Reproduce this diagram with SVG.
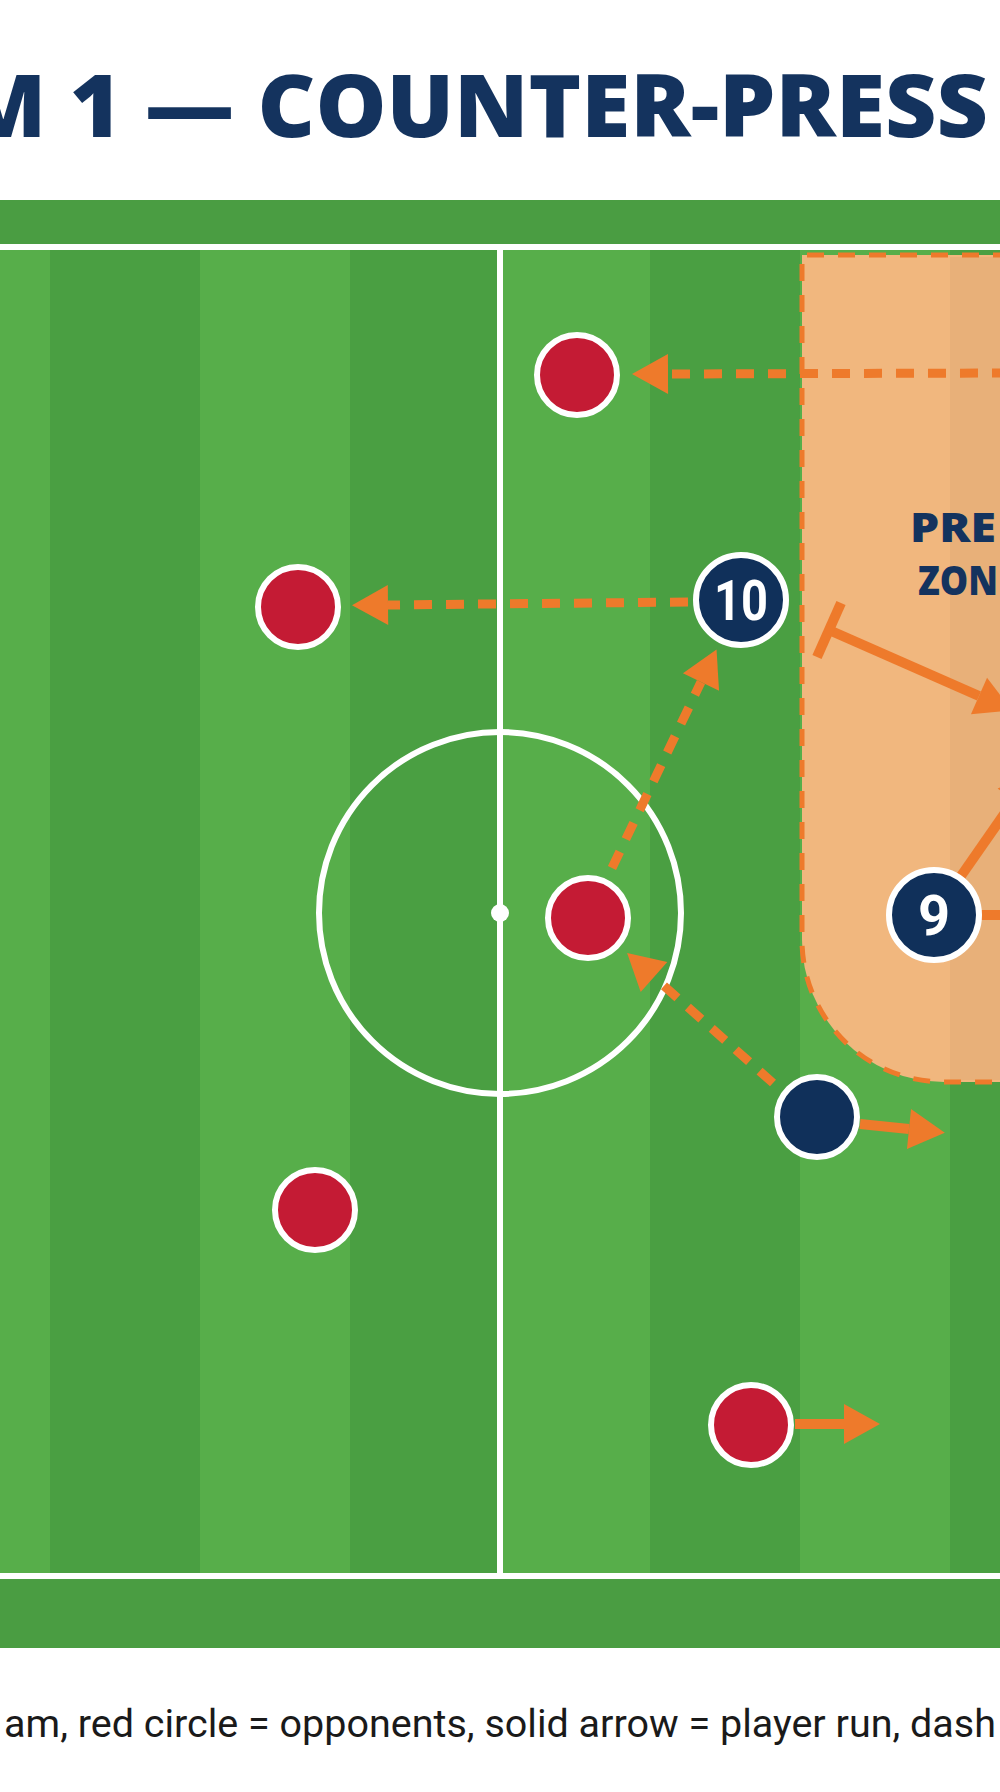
<svg xmlns="http://www.w3.org/2000/svg" width="1000" height="1792" viewBox="0 0 1000 1792">
  <style>
    .line { stroke: #ffffff; stroke-width: 6; fill: none; }
    .dash { stroke: #ee7a2b; stroke-width: 9; fill: none; stroke-dasharray: 18 14; }
    .solid { stroke: #ee7a2b; stroke-width: 10; fill: none; }
    .red { fill: #c41b34; stroke: #ffffff; stroke-width: 6; }
    .navy { fill: #10305a; stroke: #ffffff; stroke-width: 6; }
    .num { fill: #ffffff; font-family: Roboto, 'Liberation Sans', sans-serif; font-weight: 700; font-size: 56px; text-anchor: middle; }
    .zonetxt { fill: #14335e; font-family: 'Open Sans', 'Noto Sans', sans-serif; font-weight: 800; font-size: 41px; }
  </style>
  <defs>
    <marker id="ah" markerUnits="userSpaceOnUse" markerWidth="36" markerHeight="40" refX="0" refY="20" orient="auto" overflow="visible">
      <path d="M0,0 L36,20 L0,40 Z" fill="#ee7a2b"/>
    </marker>
  </defs>

  <rect x="0" y="0" width="1000" height="1792" fill="#ffffff"/>

  <text id="title" x="-40" y="137" font-family="'Open Sans','Noto Sans',sans-serif" font-weight="800" font-size="87" fill="#14335e" textLength="1028" lengthAdjust="spacingAndGlyphs">M 1 — COUNTER-PRESS</text>

  <g id="pitch">
    <rect x="0" y="200" width="1000" height="1448" fill="#4a9d42"/>
    <rect x="0" y="247" width="50" height="1329" fill="#57ae4a"/>
    <rect x="50" y="247" width="150" height="1329" fill="#4a9f42"/>
    <rect x="200" y="247" width="150" height="1329" fill="#57ae4a"/>
    <rect x="350" y="247" width="150" height="1329" fill="#4a9f42"/>
    <rect x="500" y="247" width="150" height="1329" fill="#57ae4a"/>
    <rect x="650" y="247" width="150" height="1329" fill="#4a9f42"/>
    <rect x="800" y="247" width="150" height="1329" fill="#57ae4a"/>
    <rect x="950" y="247" width="50" height="1329" fill="#4a9f42"/>
    <line class="line" x1="0" y1="247" x2="1000" y2="247"/>
    <line class="line" x1="0" y1="1576" x2="1000" y2="1576"/>
    <line class="line" x1="500" y1="247" x2="500" y2="1576"/>
    <circle class="line" cx="500" cy="913" r="181"/>
    <circle cx="500" cy="913" r="9" fill="#ffffff"/>
  </g>

  <g id="press-zone">
    <path d="M1010,255 H802 V940 A142,142 0 0 0 944,1082 H1010 Z" fill="#f1b77e"/>
    <rect x="950" y="257" width="50" height="823" fill="#000000" opacity="0.035"/>
    <path d="M1010,255 H802 V940 A142,142 0 0 0 944,1082 H1010" fill="none" stroke="#ee7a2b" stroke-width="5" stroke-dasharray="17 14"/>
    <text class="zonetxt" x="910" y="542" textLength="86" lengthAdjust="spacingAndGlyphs">PRE</text>
    <text class="zonetxt" x="918" y="595" textLength="80" lengthAdjust="spacingAndGlyphs">ZON</text>
  </g>

  <g id="connectors">
    <line class="dash" x1="1010" y1="373" x2="668" y2="374" marker-end="url(#ah)"/>
    <line class="dash" x1="688" y1="602" x2="388" y2="605" marker-end="url(#ah)"/>
    <line class="dash" x1="612" y1="868" x2="701" y2="682" marker-end="url(#ah)"/>
    <line class="dash" x1="773" y1="1083" x2="654" y2="977" marker-end="url(#ah)"/>
    <line class="solid" x1="860" y1="1124" x2="909" y2="1129" marker-end="url(#ah)"/>
    <line class="solid" x1="795" y1="1424" x2="844" y2="1424" marker-end="url(#ah)"/>
    <line class="solid" x1="829" y1="630" x2="979" y2="696" marker-end="url(#ah)"/>
    <line class="solid" x1="817" y1="657" x2="841" y2="603"/>
    <line class="solid" x1="961" y1="876" x2="1014" y2="800" marker-end="url(#ah)"/>
    <line class="solid" x1="975" y1="915" x2="1020" y2="915"/>
  </g>

  <g id="opp-1"><circle class="red" cx="577" cy="375" r="40"/></g>
  <g id="opp-2"><circle class="red" cx="298" cy="607" r="40"/></g>
  <g id="opp-3"><circle class="red" cx="588" cy="918" r="40"/></g>
  <g id="opp-4"><circle class="red" cx="315" cy="1210" r="40"/></g>
  <g id="opp-5"><circle class="red" cx="751" cy="1425" r="40"/></g>

  <g id="player-10">
    <circle class="navy" cx="741" cy="600" r="45"/>
    <text class="num" x="741" y="620" textLength="54" lengthAdjust="spacingAndGlyphs">10</text>
  </g>
  <g id="player-9">
    <circle class="navy" cx="934" cy="915" r="45"/>
    <text class="num" x="934" y="935">9</text>
  </g>
  <g id="player-a">
    <circle class="navy" cx="817" cy="1117" r="40"/>
  </g>

  <text id="caption" x="4" y="1737" font-family="'Liberation Sans Narrow', Roboto, 'Liberation Sans', sans-serif" font-size="38" fill="#1a1a1a" textLength="992" lengthAdjust="spacingAndGlyphs">am, red circle = opponents, solid arrow = player run, dash</text>
</svg>
